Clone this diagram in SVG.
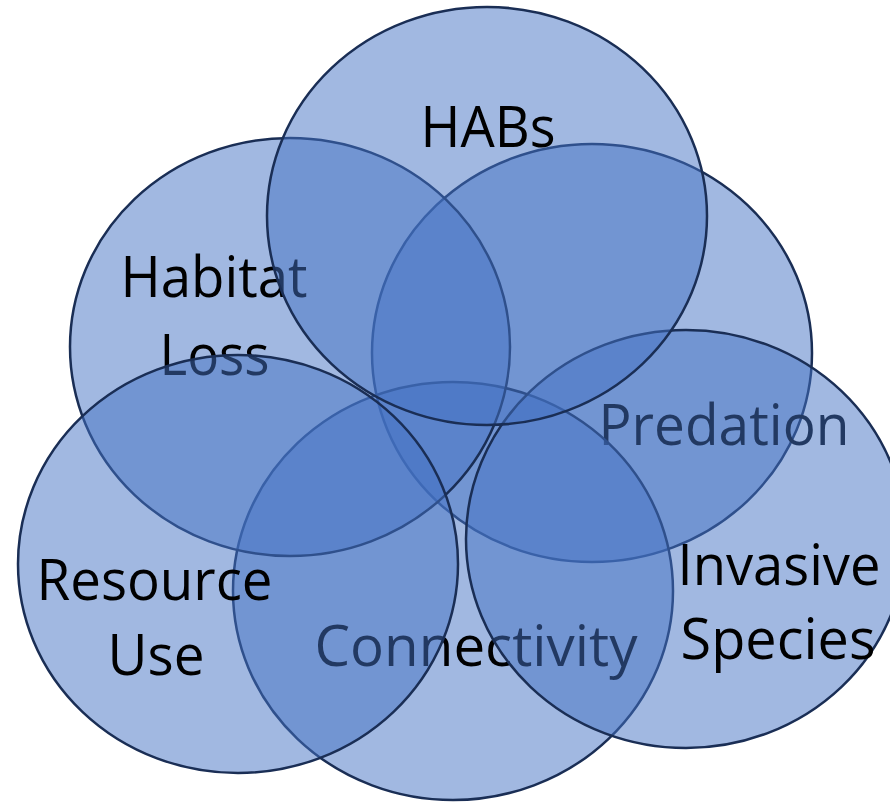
<svg xmlns="http://www.w3.org/2000/svg" width="890" height="802" viewBox="0 0 890 802">
<style>
.c{fill:#4472C4;fill-opacity:0.5;stroke:#1a2e55;stroke-width:2.5}
.t{font-family:"Open Sans","Lato","Liberation Sans",sans-serif;font-size:57px;fill:#000;text-anchor:middle}
</style>
<rect width="890" height="802" fill="#ffffff"/>
<g id="predation">
<ellipse class="c" cx="592" cy="353" rx="220" ry="209"/>
<text class="t" x="724" y="445" textLength="251" lengthAdjust="spacingAndGlyphs">Predation</text>
</g>
<g id="connectivity">
<ellipse class="c" cx="453" cy="591" rx="220" ry="209"/>
<text class="t" x="476" y="666" textLength="323" lengthAdjust="spacingAndGlyphs">Connectivity</text>
</g>
<g id="habitat-loss">
<ellipse class="c" cx="290" cy="347" rx="220" ry="209"/>
<text class="t" x="214" y="297" textLength="187" lengthAdjust="spacingAndGlyphs">Habitat</text>
<text class="t" x="214.5" y="375" textLength="110" lengthAdjust="spacingAndGlyphs">Loss</text>
</g>
<g id="resource-use">
<ellipse class="c" cx="238" cy="564" rx="220" ry="209"/>
<text class="t" x="154.5" y="600" textLength="236" lengthAdjust="spacingAndGlyphs">Resource</text>
<text class="t" x="156" y="675" textLength="97" lengthAdjust="spacingAndGlyphs">Use</text>
</g>
<g id="invasive-species">
<ellipse class="c" cx="686" cy="539" rx="220" ry="209"/>
<text class="t" x="779" y="585" textLength="203" lengthAdjust="spacingAndGlyphs">Invasive</text>
<text class="t" x="778" y="659" textLength="195" lengthAdjust="spacingAndGlyphs">Species</text>
</g>
<g id="habs">
<ellipse class="c" cx="487" cy="216" rx="220" ry="209"/>
<text class="t" x="488" y="147" textLength="135" lengthAdjust="spacingAndGlyphs">HABs</text>
</g>
</svg>
